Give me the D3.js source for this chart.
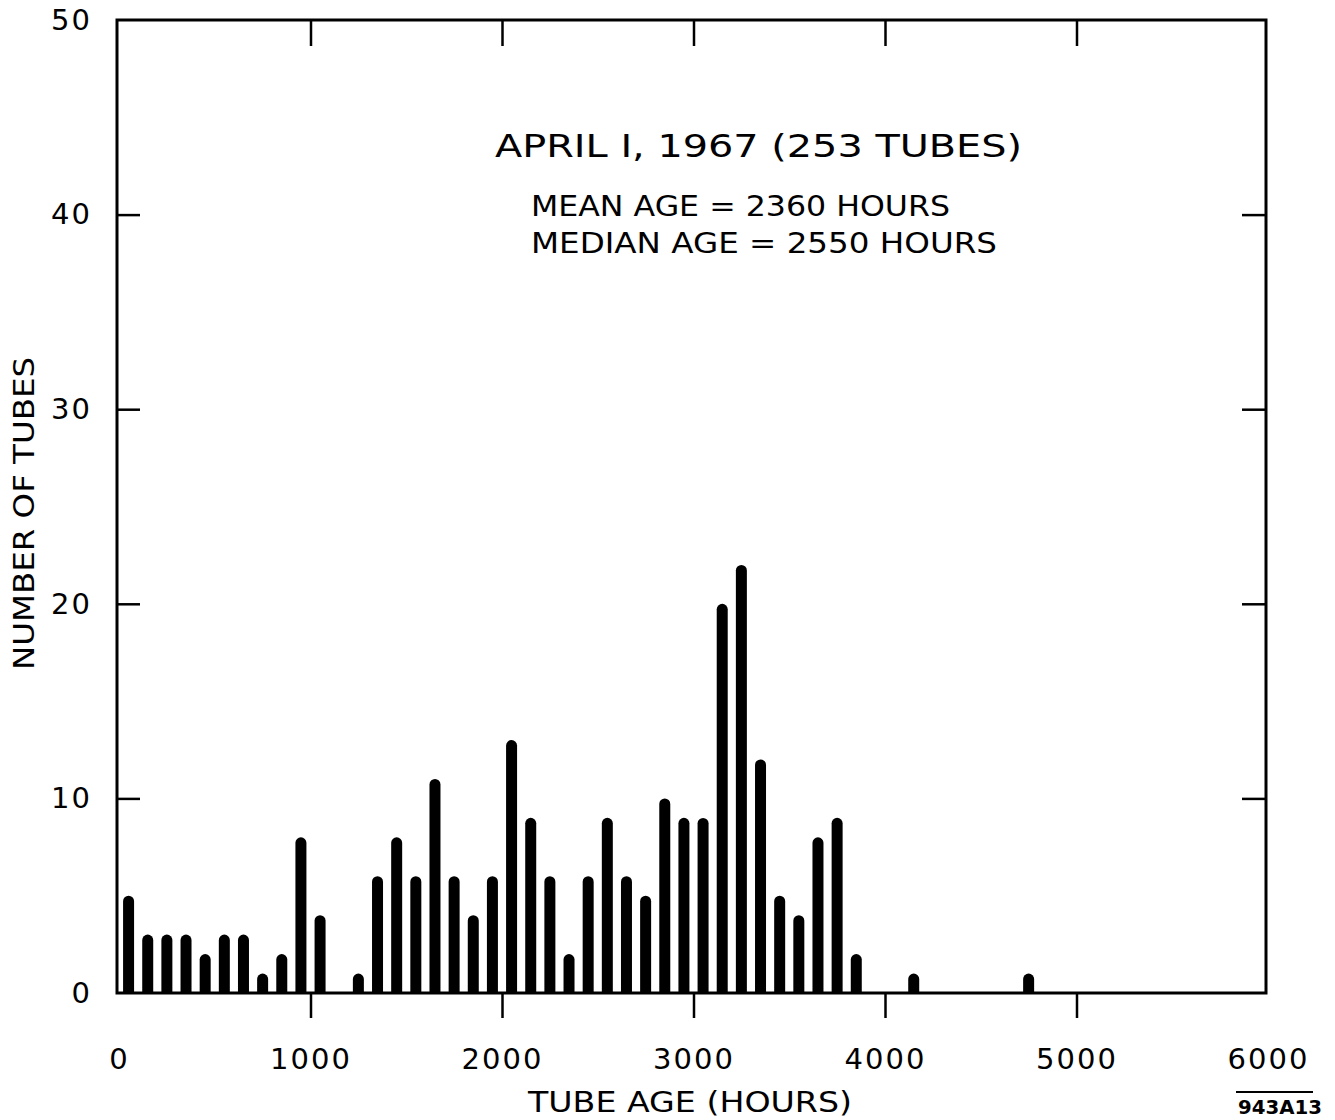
<!DOCTYPE html>
<html>
<head>
<meta charset="utf-8">
<script src="https://cdn.jsdelivr.net/npm/d3@7"></script>
<style>
  html, body { margin: 0; padding: 0; background: #fff; }
  svg { display: block; }
  text { font-family: "DejaVu Sans", sans-serif; fill: #000; }
</style>
</head>
<body>
<svg id="chart" width="1335" height="1120"></svg>
<script>
// Data: bin centres (hours) and number of tubes in each 100-hour bin
const binCenters = [50,150,250,350,450,550,650,750,850,950,1050,1250,1350,1450,1550,1650,1750,1850,1950,2050,2150,2250,2350,2450,2550,2650,2750,2850,2950,3050,3150,3250,3350,3450,3550,3650,3750,3850,4150,4750];
const tubeCounts = [5,3,3,3,2,3,3,1,2,8,4,1,6,8,6,11,6,4,6,13,9,6,2,6,9,6,5,10,9,9,20,22,12,5,4,8,9,2,1,1];
const xTickValues = [0,1000,2000,3000,4000,5000,6000];
const yTickValues = [0,10,20,30,40,50];
const titleLines = ["APRIL I, 1967 (253 TUBES)", "MEAN AGE = 2360 HOURS", "MEDIAN AGE = 2550 HOURS"];
const xLabel = "TUBE AGE (HOURS)";
const yLabel = "NUMBER OF TUBES";
const figId = "943A13";

(function () {
const svg = d3.select("#chart");
const x = d3.scaleLinear().domain([0, 6000]).range([119, 1268]);
const y = d3.scaleLinear().domain([0, 50]).range([993, 20]);

const pLeft = x(0) - 2, pRight = x(6000) - 2, pTop = y(50), pBottom = y(0);

// Bars with rounded tops
const barW = 11, r = barW / 2;
svg.append("g").selectAll("path")
  .data(binCenters.map((c, i) => ({c, v: tubeCounts[i]})))
  .join("path")
  .attr("d", d => {
    const x0 = x(d.c) - r, x1 = x(d.c) + r, yt = y(d.v), yb = pBottom;
    const capY = Math.min(yt + r, yb);
    return `M${x0},${yb}V${capY}A${r},${r} 0 0 1 ${x1},${capY}V${yb}Z`;
  })
  .attr("fill", "#000");

// Bottom axis: outward ticks at 1000..5000, labels 0..6000
const gx = svg.append("g").attr("transform", `translate(0,${pBottom})`)
  .call(d3.axisBottom(x).tickValues(xTickValues).tickSize(25).tickSizeOuter(0).tickPadding(30).tickFormat(d3.format("d")));
gx.select(".domain").remove();
gx.selectAll(".tick line").attr("stroke", "#000").attr("stroke-width", 2.5)
  .attr("y2", d => (d === 0 || d === 6000) ? 0 : 25);
gx.selectAll(".tick text").attr("font-size", 29).attr("letter-spacing", 2).attr("fill", "#000");

// Top axis: inward ticks
const gt = svg.append("g").attr("transform", `translate(0,${pTop})`)
  .call(d3.axisTop(x).tickValues(xTickValues.slice(1, -1)).tickSize(-26).tickFormat(""));
gt.select(".domain").remove();
gt.selectAll(".tick line").attr("stroke", "#000").attr("stroke-width", 2.5);

// Left axis: inward ticks with labels
const gy = svg.append("g").attr("transform", `translate(${pLeft},0)`)
  .call(d3.axisLeft(y).tickValues(yTickValues).tickSize(-23).tickPadding(25).tickFormat(d3.format("d")));
gy.select(".domain").remove();
gy.selectAll(".tick line").attr("stroke", "#000").attr("stroke-width", 2.5)
  .attr("x2", d => (d === 0 || d === 50) ? 0 : 23);
gy.selectAll(".tick text").attr("font-size", 29).attr("letter-spacing", 2).attr("fill", "#000");

// Right axis: inward ticks
const gr = svg.append("g").attr("transform", `translate(${pRight},0)`)
  .call(d3.axisRight(y).tickValues(yTickValues.slice(1, -1)).tickSize(-24).tickFormat(""));
gr.select(".domain").remove();
gr.selectAll(".tick line").attr("stroke", "#000").attr("stroke-width", 2.5);

// Frame
svg.append("rect").attr("x", pLeft).attr("y", pTop).attr("width", pRight - pLeft).attr("height", pBottom - pTop)
  .attr("fill", "none").attr("stroke", "#000").attr("stroke-width", 3);

// Annotations
svg.append("text").attr("x", 495).attr("y", 157).attr("font-size", 32)
  .attr("textLength", 527).attr("lengthAdjust", "spacingAndGlyphs").text(titleLines[0]);
svg.append("text").attr("x", 531).attr("y", 216).attr("font-size", 29)
  .attr("textLength", 419).attr("lengthAdjust", "spacingAndGlyphs").text(titleLines[1]);
svg.append("text").attr("x", 531).attr("y", 253).attr("font-size", 29)
  .attr("textLength", 466).attr("lengthAdjust", "spacingAndGlyphs").text(titleLines[2]);

// Axis titles
svg.append("text").attr("x", 528).attr("y", 1112).attr("font-size", 29)
  .attr("textLength", 324).attr("lengthAdjust", "spacingAndGlyphs").text(xLabel);
svg.append("text").attr("transform", "translate(34,670) rotate(-90)").attr("font-size", 28)
  .attr("textLength", 313).attr("lengthAdjust", "spacingAndGlyphs").text(yLabel);

// Figure id with overline
svg.append("line").attr("x1", 1236).attr("x2", 1313).attr("y1", 1092).attr("y2", 1092)
  .attr("stroke", "#000").attr("stroke-width", 2);
svg.append("text").attr("x", 1238).attr("y", 1114).attr("font-size", 19).attr("font-weight", "bold")
  .attr("textLength", 84).attr("lengthAdjust", "spacingAndGlyphs").text(figId);
})();
</script>
</body>
</html>
